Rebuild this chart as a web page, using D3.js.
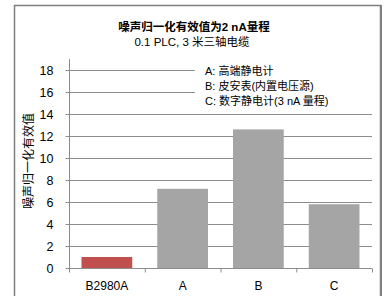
<!DOCTYPE html>
<html lang="zh">
<head>
<meta charset="UTF-8">
<title>噪声归一化有效值</title>
<script src="https://d3js.org/d3.v7.min.js"></script>
<style>
body {
    margin: 0;
    background: #fff;
}
svg text {
    font-family: "Liberation Sans Narrow", "Arial Narrow", "Liberation Sans", "Noto Sans CJK SC", sans-serif;
    fill: #000;
}
</style>
</head>
<body>
<svg id="chart" width="385" height="296"></svg>
<script>
const categories = ["B2980A", "A", "B", "C"];
const values = [1.0, 7.2, 12.6, 5.8];
const yTicks = [0, 2, 4, 6, 8, 10, 12, 14, 16, 18];
const legendLines = ["A: 高端静电计", "B: 皮安表(内置电压源)", "C: 数字静电计(3 nA 量程)"];
const title = "噪声归一化有效值为2 nA量程";
const subtitle = "0.1 PLC, 3 米三轴电缆";
const yTitle = "噪声归一化有效值";

const svg = d3.select("#chart");
const plotLeft = 69, plotRight = 372, plotTop = 70, plotBottom = 268;

const x = d3.scaleBand().domain(categories).range([plotLeft, plotRight]).paddingInner(0.33).paddingOuter(0.165);
const y = d3.scaleLinear().domain([0, 18]).range([plotBottom, plotTop]);

// outer frame
svg.append("path")
    .attr("d", "M14.5,300 V5.5 H380.5 V300")
    .attr("fill", "none")
    .attr("stroke", "#7f7f7f")
    .attr("stroke-width", 1.5);
svg.append("line")
    .attr("x1", 381).attr("x2", 381).attr("y1", 5).attr("y2", 300)
    .attr("stroke", "#7f7f7f").attr("stroke-width", 2);

// gridlines
svg.append("g")
    .selectAll("line")
    .data(yTicks.filter(d => d > 0))
    .join("line")
    .attr("x1", plotLeft).attr("x2", plotRight)
    .attr("y1", d => Math.round(y(d)) + 0.5).attr("y2", d => Math.round(y(d)) + 0.5)
    .attr("stroke", "#8c8c8c");

// legend box hides the grid behind it
svg.append("rect")
    .attr("x", 195).attr("y", 62).attr("width", 180).attr("height", 46)
    .attr("fill", "#fff");

// bars
svg.append("g")
    .selectAll("rect")
    .data(values)
    .join("rect")
    .attr("x", (d, i) => x(categories[i]))
    .attr("width", x.bandwidth())
    .attr("y", d => y(d))
    .attr("height", d => y(0) - y(d))
    .attr("fill", (d, i) => i === 0 ? "#c0504d" : "#a5a5a5");

// y axis
const yAxis = svg.append("g")
    .attr("transform", `translate(${plotLeft + 0.5},0)`)
    .call(d3.axisLeft(y).tickValues(yTicks).tickSize(4).tickPadding(12).tickSizeOuter(0));
yAxis.select(".domain").attr("d", `M0,59V${plotBottom + 4}`);
yAxis.selectAll("line").attr("stroke", "#8c8c8c");
yAxis.select(".domain").attr("stroke", "#8c8c8c");
yAxis.selectAll("text").attr("font-size", 12.5);

// x axis
const xAxis = svg.append("g")
    .attr("transform", `translate(0,${plotBottom + 0.5})`)
    .call(d3.axisBottom(x).tickSize(0).tickPadding(13));
xAxis.select(".domain").attr("stroke", "#8c8c8c").attr("d", `M${plotLeft},0H${plotRight}`);
xAxis.selectAll("text").attr("font-size", 12);
xAxis.append("g")
    .selectAll("line")
    .data(d3.range(categories.length + 1))
    .join("line")
    .attr("x1", i => plotLeft + i * x.step() + 0.5)
    .attr("x2", i => plotLeft + i * x.step() + 0.5)
    .attr("y1", 0).attr("y2", 4)
    .attr("stroke", "#8c8c8c");

// titles
svg.append("text")
    .attr("x", 194).attr("y", 31)
    .attr("text-anchor", "middle")
    .attr("font-size", 11.5)
    .attr("font-weight", "bold")
    .text(title);
svg.append("text")
    .attr("x", 192).attr("y", 46)
    .attr("text-anchor", "middle")
    .attr("font-size", 11.5)
    .text(subtitle);

svg.append("text")
    .attr("transform", "translate(33,161) rotate(-90)")
    .attr("text-anchor", "middle")
    .attr("font-size", 12)
    .text(yTitle);

// legend
svg.append("g")
    .selectAll("text")
    .data(legendLines)
    .join("text")
    .attr("x", 205)
    .attr("y", (d, i) => 75 + i * 15)
    .attr("font-size", 11)
    .text(d => d);
</script>
</body>
</html>
